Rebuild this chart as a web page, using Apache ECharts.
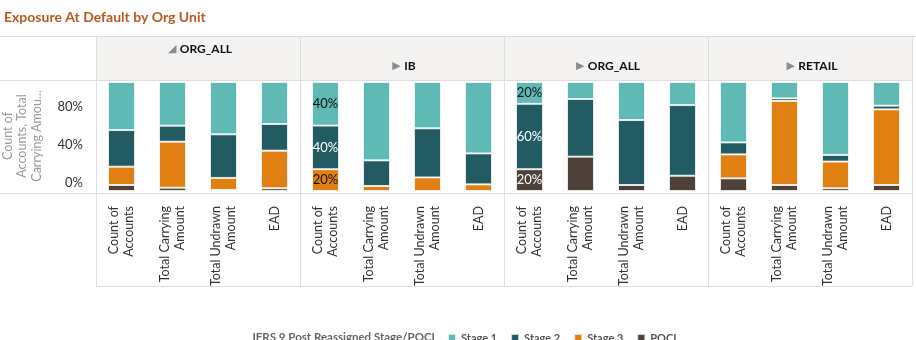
<!DOCTYPE html>
<html>
<head>
<meta charset="utf-8">
<script src="https://cdn.jsdelivr.net/npm/echarts@6/dist/echarts.min.js"></script>
<style>
  html, body { margin: 0; padding: 0; background: #fff; }
  #chart { width: 916px; height: 340px; }
</style>
</head>
<body>
<div id="chart"></div>
<script>
// ---- data ----
const titleText = 'Exposure At Default by Org Unit';
const categories = ['Count of\nAccounts', 'Total Carrying\nAmount', 'Total Undrawn\nAmount', 'EAD'];
const panels = ['ORG_ALL', 'IB', 'ORG_ALL', 'RETAIL'];
const panelExpanded = [true, false, false, false];
// values in %, 4 categories per panel (ORG_ALL, IB, ORG_ALL, RETAIL)
const stage1 = [44.1, 40.1, 48.0, 38.5,   40, 71.9, 42.5, 65.5,   20, 15.6, 34.9, 21.2,   55.4, 15.0, 66.9, 21.7];
const stage2 = [33.6, 14.7, 40.0, 24.5,   40, 23.5, 45.0, 28.4,   60, 52.9, 59.6, 64.8,   11.0, 2.4, 6.1, 3.4];
const stage3 = [16.8, 42.2, 11.0, 34.5,   20, 4.6, 12.5, 6.1,     0, 0, 0, 0,             22.0, 77.1, 24.5, 69.4];
const poci   = [5.5, 3.0, 1.0, 2.5,       0, 0, 0, 0,             20, 31.5, 5.5, 14.0,    11.6, 5.5, 2.5, 5.5];
const yTickValues = [0, 40, 80];
const yAxisTitle = 'Count of\nAccounts, Total\nCarrying Amou...';
const legendTitle = 'IFRS 9 Post Reassigned Stage/POCI';
const legendOrder = ['Stage 1', 'Stage 2', 'Stage 3', 'POCI'];
const labelledBars = [[1, 0], [2, 0]]; // [panel, category] with value labels

// ---- layout ----
const FONT = 'Lato, "Open Sans", sans-serif';
const panelLeft = [96, 300, 504, 708];
const panelW = 204;
const gridTop = 82, gridH = 109;
const lineColor = '#dedede';

const stageDefs = [
  { name: 'POCI',    data: poci,   color: '#4e4139', labelColor: '#ffffff' },
  { name: 'Stage 3', data: stage3, color: '#e08012', labelColor: '#111111' },
  { name: 'Stage 2', data: stage2, color: '#235b63', labelColor: '#ffffff' },
  { name: 'Stage 1', data: stage1, color: '#5fb9b5', labelColor: '#111111' }
];

const grids = [], xAxes = [], yAxes = [], series = [];
panels.forEach((p, pi) => {
  grids.push({ left: panelLeft[pi], top: gridTop, width: panelW, height: gridH });
  xAxes.push({
    type: 'category', gridIndex: pi, data: categories,
    axisLine: { show: false }, axisTick: { show: false },
    axisLabel: { interval: 0, rotate: 90, margin: 15, fontSize: 12.5, lineHeight: 15,
                 color: '#333', fontFamily: FONT }
  });
  yAxes.push({ type: 'value', gridIndex: pi, min: 0, max: 100, show: false });
  stageDefs.forEach(sd => {
    series.push({
      type: 'bar', name: sd.name, stack: 'p' + pi,
      xAxisIndex: pi, yAxisIndex: pi, barWidth: 27,
      itemStyle: { color: sd.color, borderColor: 'rgba(255,255,255,0.75)', borderWidth: 1 },
      emphasis: { disabled: true },
      data: categories.map((c, ci) => {
        const v = sd.data[pi * 4 + ci];
        const item = { value: v ? v : '-' };
        if (v && labelledBars.some(l => l[0] === pi && l[1] === ci)) {
          item.label = { show: true, position: 'inside', formatter: '{c}%',
                         fontSize: 13, color: sd.labelColor, fontFamily: FONT };
        }
        return item;
      })
    });
  });
});
// axis only carrying the percentage tick labels (left side)
yAxes.push({
  type: 'value', gridIndex: 0, position: 'left', min: -8.8, max: 106.8,
  axisLine: { show: false }, axisTick: { show: false }, splitLine: { show: false },
  axisLabel: { customValues: yTickValues, formatter: '{value}%', margin: 13,
               fontSize: 13, color: '#333', fontFamily: FONT }
});

const graphics = [];
// header background
graphics.push({ type: 'rect', shape: { x: 96, y: 36, width: 816, height: 44 },
  style: { fill: '#f4f3f1' }, silent: true, z: -1 });
// horizontal lines
[[0, 36, 916], [0, 80, 912], [0, 193, 912], [96, 286, 912]].forEach(l => {
  graphics.push({ type: 'line', shape: { x1: l[0], y1: l[1] + 0.5, x2: l[2], y2: l[1] + 0.5 },
    style: { stroke: lineColor, lineWidth: 1 }, silent: true });
});
// vertical lines
[96, 300, 504, 708, 912].forEach(x => {
  graphics.push({ type: 'line', shape: { x1: x + 0.5, y1: 36, x2: x + 0.5, y2: 286 },
    style: { stroke: lineColor, lineWidth: 1 }, silent: true });
});
// title
graphics.push({ type: 'text', x: 4, y: 17,
  style: { text: titleText, fill: '#b9581f', font: 'bold 14px ' + FONT, verticalAlign: 'middle' } });
// panel headers
panels.forEach((p, pi) => {
  graphics.push({ type: 'text', x: panelLeft[pi] + panelW / 2 + 2, y: panelExpanded[pi] ? 49 : 66,
    style: {
      text: '{t|' + (panelExpanded[pi] ? '◢' : '▶') + '} {n|' + p + '}',
      align: 'center', verticalAlign: 'middle',
      rich: {
        t: { fill: '#8c8c8c', fontSize: 11, fontFamily: 'DejaVu Sans' },
        n: { fill: '#111', fontSize: 12, fontWeight: 'bold', fontFamily: FONT }
      }
    } });
});
// y axis title
graphics.push({ type: 'text', x: 22, y: 136, rotation: Math.PI / 2,
  style: { text: yAxisTitle, fill: '#9a9a9a', fontSize: 12.5, lineHeight: 14.5, fontFamily: FONT,
           align: 'center', verticalAlign: 'middle' } });
// legend title
graphics.push({ type: 'text', x: 435, y: 337,
  style: { text: legendTitle, fill: '#666', fontSize: 11.5, fontWeight: 'bold', fontFamily: FONT,
           align: 'right', verticalAlign: 'middle' } });

const chart = echarts.init(document.getElementById('chart'), null, { renderer: 'canvas' });
chart.setOption({
  animation: false,
  grid: grids, xAxis: xAxes, yAxis: yAxes, series: series,
  legend: {
    data: legendOrder, left: 447, top: 331, padding: 0, icon: 'rect', itemWidth: 8, itemHeight: 8, itemGap: 13,
    selectedMode: false,
    textStyle: { fontSize: 11, fontWeight: 'bold', color: '#555', fontFamily: FONT, lineHeight: 14 }
  },
  graphic: graphics
});
</script>
</body>
</html>
